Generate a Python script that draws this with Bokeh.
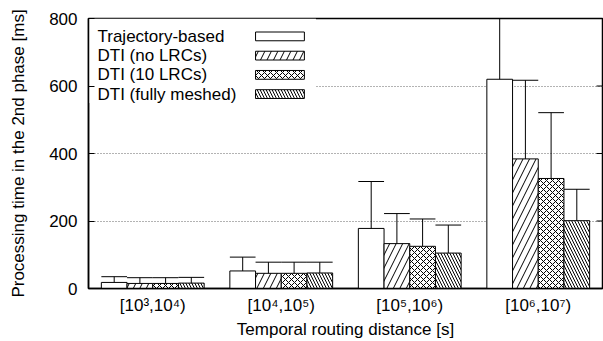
import numpy as np
from bokeh.plotting import figure
from bokeh.models import Range1d, FixedTicker
from bokeh.core.properties import value
from bokeh.embed import file_html
from bokeh.resources import INLINE

categories = ["[10³,10⁴)", "[10⁴,10⁵)", "[10⁵,10⁶)", "[10⁶,10⁷)"]
series_names = ["Trajectory-based", "DTI (no LRCs)", "DTI (10 LRCs)", "DTI (fully meshed)"]
traj_mean = [18, 52, 178, 620]
traj_upper = [35, 93, 317, 900]
nolrc_mean = [15, 45, 133, 384]
nolrc_upper = [32, 78, 222, 617]
lrc10_mean = [15, 45, 125, 326]
lrc10_upper = [32, 78, 206, 521]
mesh_mean = [16, 46, 105, 201]
mesh_upper = [33, 78, 188, 294]
y_ticks = [0, 200, 400, 600, 800]

means = [traj_mean, nolrc_mean, lrc10_mean, mesh_mean]
uppers = [traj_upper, nolrc_upper, lrc10_upper, mesh_upper]
hatches = [
    dict(),
    dict(hatch_pattern="right_diagonal_line", hatch_scale=13, hatch_weight=1, hatch_color="black"),
    dict(hatch_pattern="diagonal_cross", hatch_scale=6, hatch_weight=1, hatch_color="black"),
    dict(hatch_pattern="left_diagonal_line", hatch_scale=6, hatch_weight=1, hatch_color="black"),
]
offsets = [-0.3, -0.1, 0.1, 0.3]
bw = 0.2
FONT = "Liberation Sans"
FS = "17px"
X0, X1 = 0.5, 4.5

p = figure(width=603, height=341, output_backend="svg", toolbar_location=None,
           x_range=Range1d(X0, X1), y_range=Range1d(0, 800),
           min_border_left=88, min_border_right=1, min_border_top=18, min_border_bottom=50)
p.outline_line_color = "black"
p.outline_line_width = 1.5
p.background_fill_color = "white"
p.xgrid.visible = False
p.ygrid.ticker = FixedTicker(ticks=[200, 400, 600])
p.ygrid.grid_line_color = "#666666"
p.ygrid.grid_line_dash = "1 2"
p.ygrid.grid_line_width = 1

xs = np.arange(1, len(categories) + 1)

# legend background (covers grid)
p.quad(left=[X0], right=[2.27], bottom=[550], top=[800], fill_color="white", line_color=None)

for i in range(4):
    x = xs + offsets[i]
    p.vbar(x=x, top=means[i], bottom=0, width=bw, fill_color="white", line_color="black",
           line_width=1, **hatches[i])
    p.segment(x0=x, y0=means[i], x1=x, y1=uppers[i], line_color="black", line_width=1)
    p.segment(x0=x - bw / 2, y0=uppers[i], x1=x + bw / 2, y1=uppers[i], line_color="black", line_width=1)

# mirrored tick marks on the right frame edge
tick_len = 6 / 128.5
p.segment(x0=[X1 - tick_len] * len(y_ticks), y0=y_ticks, x1=[X1] * len(y_ticks), y1=y_ticks,
          line_color="black", line_width=1)

# custom legend: label left, sample right
leg_y = np.array([747, 690, 633, 576])
p.text(x=[0.57] * 4, y=leg_y, text=series_names, text_font=value(FONT), text_font_size=FS,
       text_baseline="middle", text_align="left", text_color="black")
for i in range(4):
    p.quad(left=[1.80], right=[2.18], bottom=[leg_y[i] - 13], top=[leg_y[i] + 13],
           fill_color="white", line_color="black", line_width=1, **hatches[i])

# axes
p.xaxis.ticker = FixedTicker(ticks=list(xs))
p.xaxis.major_label_overrides = {int(k): c for k, c in zip(xs, categories)}
p.xaxis.major_tick_in = 0
p.xaxis.major_tick_out = 0
p.xaxis.minor_tick_line_color = None
p.xaxis.axis_line_width = 1.5
p.xaxis.major_label_standoff = 7
p.xaxis.axis_label = "Temporal routing distance [s]"
p.xaxis.axis_label_standoff = 2

p.yaxis.ticker = FixedTicker(ticks=y_ticks)
p.yaxis.major_tick_in = 6
p.yaxis.major_tick_out = 0
p.yaxis.minor_tick_line_color = None
p.yaxis.axis_line_width = 1.5
p.yaxis.major_label_standoff = 11
p.yaxis.axis_label = "Processing time in the 2nd phase [ms]"
p.yaxis.axis_label_standoff = 18

for ax in [p.xaxis[0], p.yaxis[0]]:
    ax.major_label_text_font = FONT
    ax.major_label_text_font_size = FS
    ax.axis_label_text_font = FONT
    ax.axis_label_text_font_size = FS
    ax.axis_label_text_font_style = "normal"
    ax.major_label_text_color = "black"
    ax.axis_label_text_color = "black"

open("out.html", "w").write(file_html(p, INLINE))
